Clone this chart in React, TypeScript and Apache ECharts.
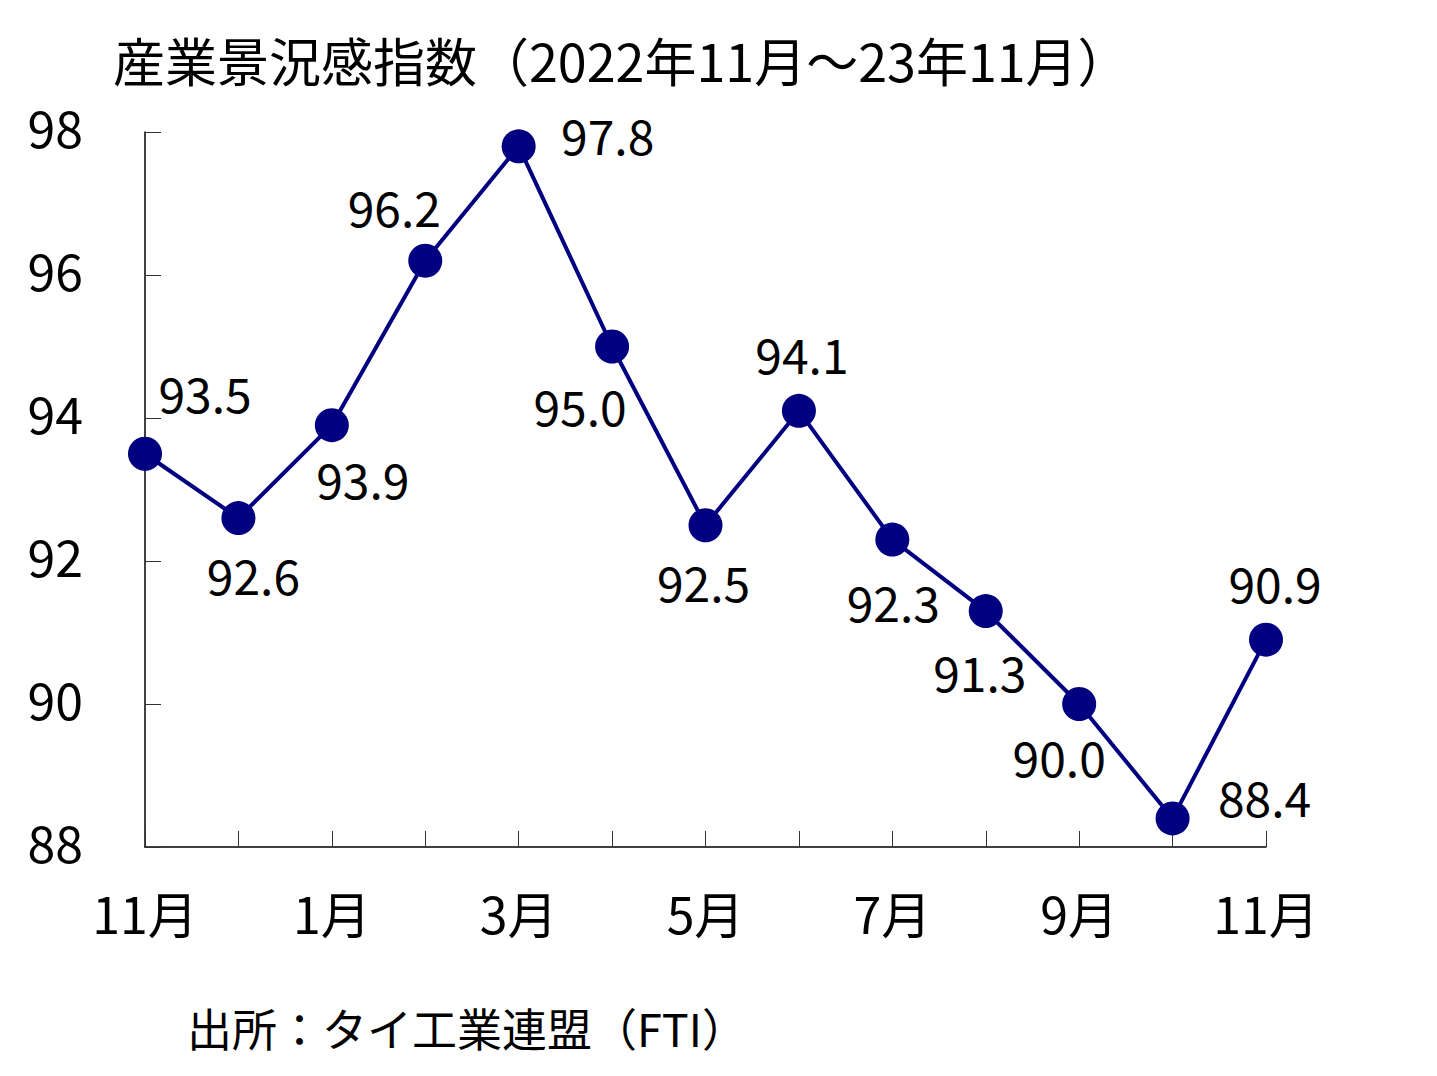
import React, { useEffect, useRef } from "react";
import * as echarts from "echarts";

const titleText = "産業景況感指数（2022年11月～23年11月）";
const sourceText = "出所：タイ工業連盟（FTI）";
const categories = ["11月", "12月", "1月", "2月", "3月", "4月", "5月", "6月", "7月", "8月", "9月", "10月", "11月"];
const values = [93.5, 92.6, 93.9, 96.2, 97.8, 95.0, 92.5, 94.1, 92.3, 91.3, 90.0, 88.4, 90.9];
const labelOffsets = [
  [60, -62], [15, 56], [31, 53], [-31, -55], [89, -12], [-32, 58], [-2, 56],
  [3, -58], [1, 61], [-6, 60], [-20, 52], [92, -22], [9, -58],
];

const FONT = "Noto Sans CJK JP";

export default function App() {
  const ref = useRef<HTMLDivElement>(null);
  useEffect(() => {
    document.body.style.margin = "0";
    const chart = echarts.init(ref.current!, null, { renderer: "svg" });
    chart.setOption({
      animation: false,
      backgroundColor: "#ffffff",
      textStyle: { fontFamily: FONT },
      title: [
        {
          text: titleText,
          left: 108,
          top: 27,
          textStyle: { fontFamily: FONT, fontSize: 52, fontWeight: "normal", color: "#000", lineHeight: 54 },
        },
        {
          text: sourceText,
          left: 182,
          top: 998,
          textStyle: { fontFamily: FONT, fontSize: 45, fontWeight: "normal", color: "#000", lineHeight: 48 },
        },
      ],
      grid: { left: 145, right: 171, top: 132, bottom: 229, containLabel: false },
      xAxis: {
        type: "category",
        data: categories,
        boundaryGap: false,
        axisLine: { show: true, lineStyle: { color: "#000", width: 1.5 } },
        axisTick: { show: true, inside: true, length: 16, interval: 0, lineStyle: { color: "#333", width: 1 } },
        axisLabel: { interval: 1, margin: 40, fontSize: 50, color: "#000", fontFamily: FONT },
        splitLine: { show: false },
      },
      yAxis: {
        type: "value",
        min: 88,
        max: 98,
        interval: 2,
        axisLine: { show: true, lineStyle: { color: "#000", width: 1.5 } },
        axisTick: { show: true, inside: true, length: 16, lineStyle: { color: "#333", width: 1 } },
        axisLabel: {
          margin: 62,
          color: "#000",
          fontFamily: FONT,
          fontSize: 50,
          formatter: (v: number) => `{a|${v}}`,
          rich: { a: { fontSize: 50, fontFamily: FONT, color: "#000", padding: [0, 0, 12, 0] } },
        },
        splitLine: { show: false },
      },
      series: [
        {
          type: "line",
          data: values.map((v, i) => ({
            value: v,
            label: { offset: labelOffsets[i] },
          })),
          symbol: "circle",
          symbolSize: 34,
          lineStyle: { color: "#000080", width: 4 },
          itemStyle: { color: "#000080" },
          label: {
            show: true,
            position: "inside",
            fontSize: 48,
            color: "#000",
            fontFamily: FONT,
            formatter: (p: any) => Number(p.value).toFixed(1),
          },
        },
      ],
    });
    return () => chart.dispose();
  }, []);
  return <div ref={ref} style={{ width: 1437, height: 1076 }} />;
}
